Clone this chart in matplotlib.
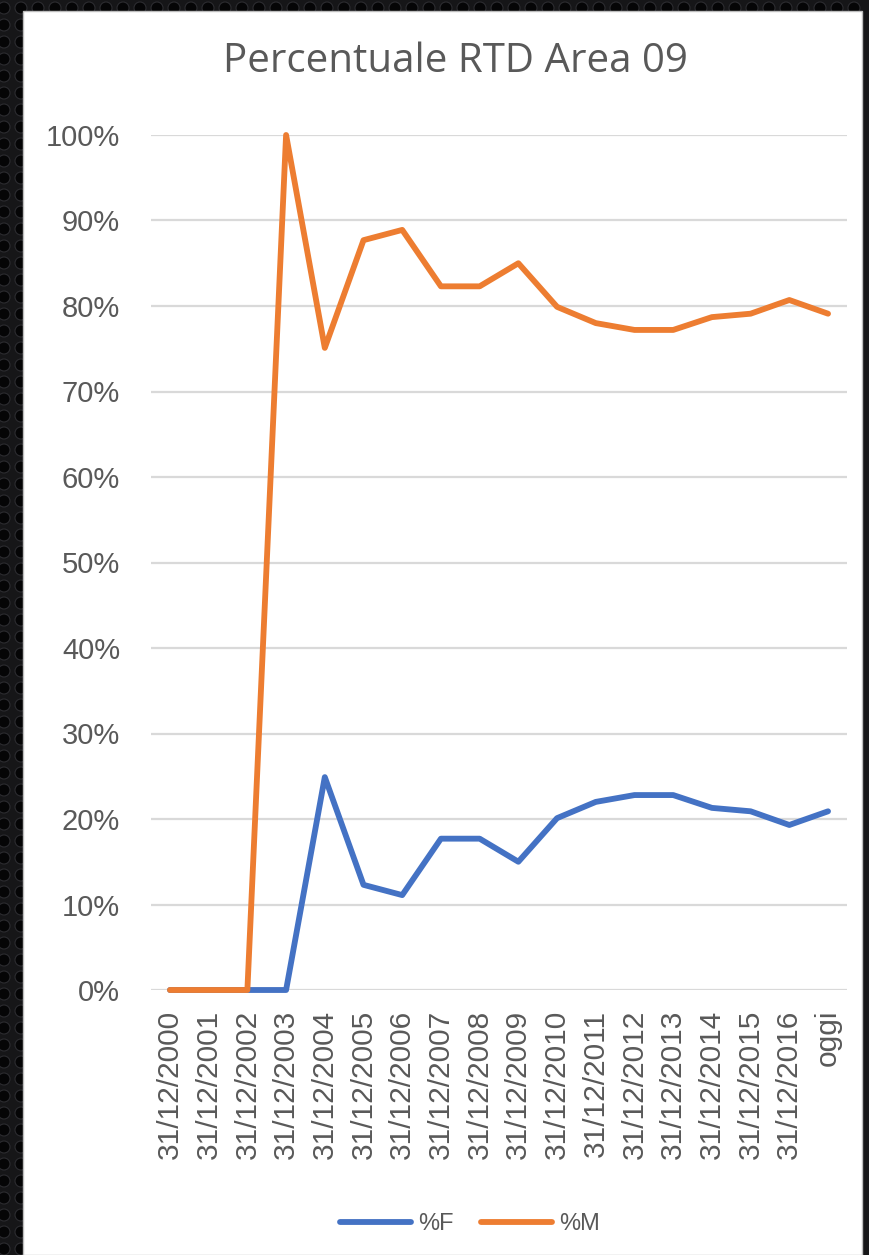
import matplotlib.pyplot as plt
from matplotlib.patches import Rectangle, Ellipse

# data
labels = ['31/12/2000', '31/12/2001', '31/12/2002', '31/12/2003', '31/12/2004',
          '31/12/2005', '31/12/2006', '31/12/2007', '31/12/2008', '31/12/2009',
          '31/12/2010', '31/12/2011', '31/12/2012', '31/12/2013', '31/12/2014',
          '31/12/2015', '31/12/2016', 'oggi']
pct_f = [0, 0, 0, 0, 24.9, 12.3, 11.1, 17.7, 17.7, 15.0,
         20.1, 22.0, 22.8, 22.8, 21.3, 20.9, 19.3, 20.9]
pct_m = [0, 0, 0, 100, 75.1, 87.7, 88.9, 82.3, 82.3, 85.0,
         79.9, 78.0, 77.2, 77.2, 78.7, 79.1, 80.7, 79.1]
y_ticks = [0, 10, 20, 30, 40, 50, 60, 70, 80, 90, 100]

W, H = 869, 1255
fig = plt.figure(figsize=(W / 100, H / 100), dpi=100, facecolor='#161618')

# dark perforated border
for cx in range(4, W, 17):
    for cy in range(6, H, 17):
        fig.patches.append(Ellipse((cx / W, cy / H), 12.0 / W, 12.0 / H,
                                   transform=fig.transFigure, facecolor='#050506',
                                   edgecolor='#2c2c30', lw=0.8, zorder=-3))
fig.patches.append(Rectangle((23 / W, 0), (862 - 23) / W, (H - 11) / H,
                             transform=fig.transFigure, facecolor='white',
                             edgecolor='#bdbdbd', lw=1.0, zorder=-2))

left, right = 150.6, 847.4
top, bottom = 135, 990
ax = fig.add_axes([left / W, 1 - bottom / H, (right - left) / W, (bottom - top) / H])
ax.set_facecolor('none')

txt = '#595959'
x = list(range(len(labels)))
ax.plot(x, pct_f, color='#4472C4', lw=4.2, label='%F', clip_on=False,
        solid_joinstyle='round', solid_capstyle='round', zorder=3)
ax.plot(x, pct_m, color='#ED7D31', lw=4.2, label='%M', clip_on=False,
        solid_joinstyle='round', solid_capstyle='round', zorder=4)

ax.set_xlim(-0.5, len(labels) - 0.5)
ax.set_ylim(0, 100)
ax.set_yticks(y_ticks)
ax.set_yticklabels([f'{v}%' for v in y_ticks], fontsize=21, color=txt,
                   family='Liberation Sans')
ax.set_xticks(x)
ax.set_xticklabels(labels, rotation=90, fontsize=21.5, color=txt,
                   family='Liberation Sans')
ax.tick_params(axis='y', length=0, pad=22)
ax.tick_params(axis='x', length=0, pad=14)
ax.grid(axis='y', color='#d9d9d9', lw=1.6, zorder=1)
for s in ax.spines.values():
    s.set_visible(False)

fig.text(455 / W, 1 - 62 / H, 'Percentuale RTD Area 09', ha='center', va='center',
         fontsize=29, color=txt, family='Open Sans')

leg = fig.legend(loc='center', bbox_to_anchor=(470 / W, 1 - 1224 / H), ncol=2,
                 frameon=False, fontsize=17, handlelength=3.0, columnspacing=1.2,
                 handletextpad=0.3)
for t in leg.get_texts():
    t.set_color(txt)
    t.set_family('Liberation Sans')

fig.savefig('out.png', dpi=100, facecolor=fig.get_facecolor())
